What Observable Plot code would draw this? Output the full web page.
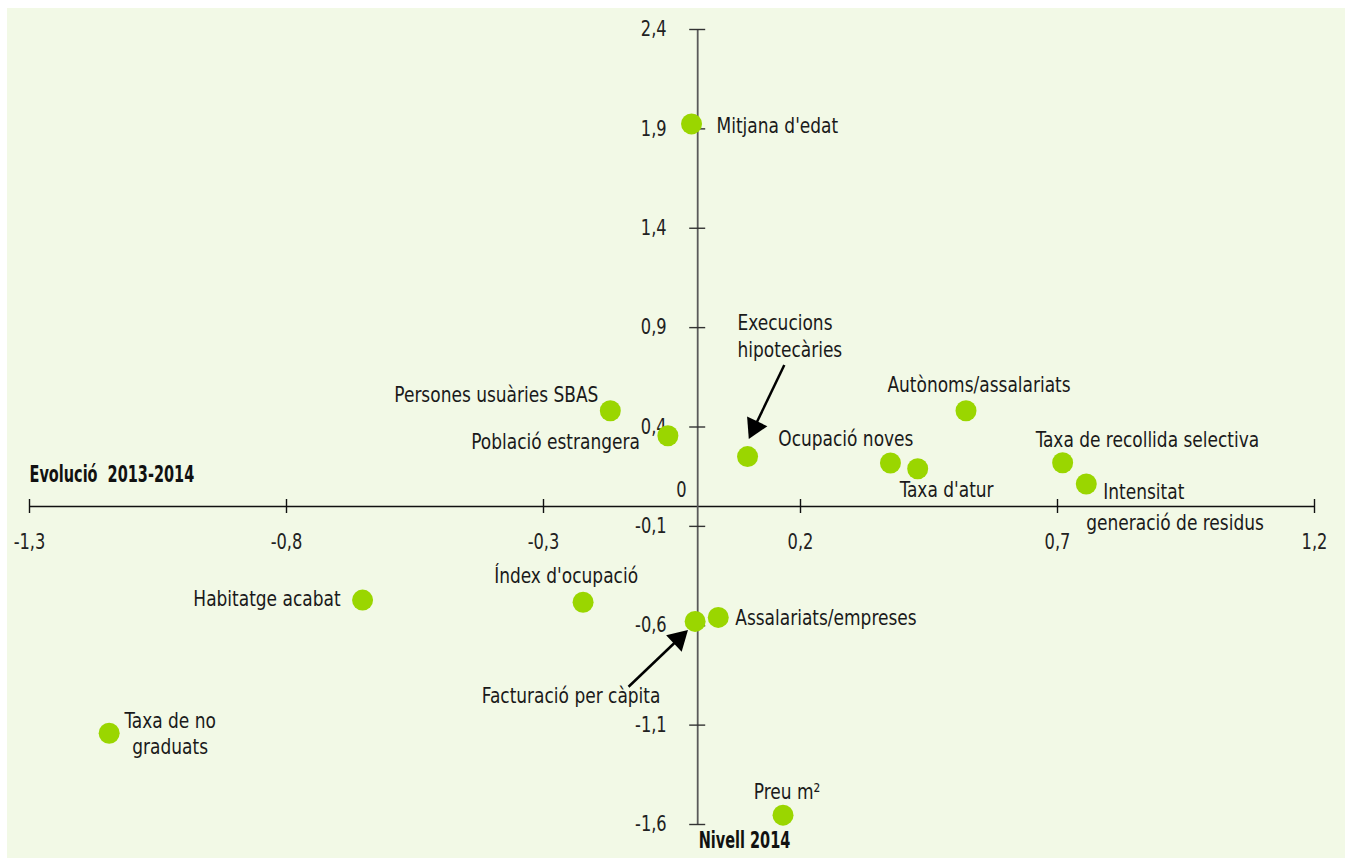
<!DOCTYPE html>
<html>
<head>
<meta charset="utf-8">
<script src="https://cdn.jsdelivr.net/npm/d3@7"></script>
<script src="https://cdn.jsdelivr.net/npm/@observablehq/plot@0.6"></script>
<style>
  html, body { margin: 0; padding: 0; background: #ffffff; }
  #chart { position: absolute; left: 7px; top: 8px; }
  #chart svg { display: block; background: #f2f9e6; }
</style>
</head>
<body>
<div id="chart"></div>
<script>
// ---- Data ----
const names = [
  "Mitjana d'edat", "Persones usuàries SBAS", "Població estrangera", "Execucions hipotecàries",
  "Autònoms/assalariats", "Ocupació noves", "Taxa d'atur", "Taxa de recollida selectiva",
  "Intensitat generació de residus", "Habitatge acabat", "Índex d'ocupació", "Facturació per càpita",
  "Assalariats/empreses", "Taxa de no graduats", "Preu m²"
];
const xVals = [-0.012, -0.170, -0.058, 0.097, 0.522, 0.375, 0.428, 0.710, 0.756, -0.652, -0.223, -0.005, 0.040, -1.145, 0.166];
const yVals = [1.925, 0.482, 0.356, 0.251, 0.482, 0.219, 0.190, 0.220, 0.113, -0.471, -0.482, -0.578, -0.558, -1.141, -1.553];

const xTicks = [-1.3, -0.8, -0.3, 0.2, 0.7, 1.2];
const yTicks = [2.4, 1.9, 1.4, 0.9, 0.4, -0.1, -0.6, -1.1, -1.6];
const xTitle = "Evolució  2013-2014";
const yTitle = "Nivell 2014";

// annotation arrows (data units): from -> to
const arrowFromX = [0.1685, -0.1345];
const arrowFromY = [0.712, -0.907];
const arrowToX = [0.0994, -0.0189];
const arrowToY = [0.340, -0.6215];

// ---- Layout (label placement, pixels) ----
const labelLayout = [
  {i: 0, text: "Mitjana d'edat", anchor: "start", dx: 25, dy: 2},
  {i: 1, text: "Persones usuàries SBAS", anchor: "end", dx: -12, dy: -16},
  {i: 2, text: "Població estrangera", anchor: "end", dx: -28, dy: 6},
  {i: 3, text: "Execucions", anchor: "start", dx: -10, dy: -134},
  {i: 3, text: "hipotecàries", anchor: "start", dx: -10, dy: -107},
  {i: 4, text: "Autònoms/assalariats", anchor: "middle", dx: 13, dy: -26},
  {i: 5, text: "Ocupació noves", anchor: "end", dx: 23, dy: -24},
  {i: 6, text: "Taxa d'atur", anchor: "start", dx: -18, dy: 21},
  {i: 7, text: "Taxa de recollida selectiva", anchor: "start", dx: -27, dy: -23},
  {i: 8, text: "Intensitat", anchor: "start", dx: 17, dy: 8},
  {i: 8, text: "generació de residus", anchor: "start", dx: 0, dy: 39},
  {i: 9, text: "Habitatge acabat", anchor: "end", dx: -22, dy: -1},
  {i: 10, text: "Índex d'ocupació", anchor: "middle", dx: -17, dy: -26},
  {i: 11, text: "Facturació per càpita", anchor: "middle", dx: -124, dy: 75},
  {i: 12, text: "Assalariats/empreses", anchor: "start", dx: 17, dy: 1},
  {i: 13, text: "Taxa de no\ngraduats", anchor: "middle", dx: 61, dy: -1, lineHeight: 1.2},
  {i: 14, text: "Preu m²", anchor: "middle", dx: 4, dy: -23}
];

const W = 1338, H = 850;
const mL = 22, mR = 31, mT = 21, mB = 34;
const FONT = "'DejaVu Sans Condensed', 'DejaVu Sans', sans-serif";
const FS = 21;      // tick labels
const FS_LABEL = 22; // point labels
const FS_TITLE = 23; // bold axis titles
const GREEN = "#9ad600";
const SQUEEZE = 0.86, SQUEEZE_BOLD = 0.70;
const fmt = v => (Object.is(v, -0) ? "0" : String(v)).replace(".", ",");

const points = names.map((n, i) => ({name: n, x: xVals[i], y: yVals[i]}));

// replicate scales for arrowhead orientation
const sx = d3.scaleLinear([-1.3, 1.2], [mL, W - mR]);
const sy = d3.scaleLinear([-1.6, 2.4], [H - mB, mT]);
const HEAD = 6.5; // triangle half-unit
const arrows = arrowFromX.map((_, k) => {
  const x1 = sx(arrowFromX[k]), y1 = sy(arrowFromY[k]);
  const x2 = sx(arrowToX[k]), y2 = sy(arrowToY[k]);
  const len = Math.hypot(x2 - x1, y2 - y1);
  const ux = (x2 - x1) / len, uy = (y2 - y1) / len;
  const cx = x2 - 2 * HEAD * ux, cy = y2 - 2 * HEAD * uy;
  const bx = x2 - 2.5 * HEAD * ux, by = y2 - 2.5 * HEAD * uy;
  return {
    x1: arrowFromX[k], y1: arrowFromY[k],
    x2: sx.invert(bx), y2: sy.invert(by),
    hx: sx.invert(cx), hy: sy.invert(cy),
    rot: Math.atan2(ux, -uy) * 180 / Math.PI
  };
});

const marks = [
  // x axis
  Plot.ruleY([0], {x1: -1.3, x2: 1.2, stroke: "#111", strokeWidth: 1.6}),
  Plot.ruleX(xTicks, {x: d => d, y1: 0, y2: 0, insetTop: -7, insetBottom: -7, stroke: "#111", strokeWidth: 1.4}),
  Plot.text(xTicks, {x: d => d, y: 0, text: fmt, dy: 36, fontSize: FS, fill: "#222", fontFamily: FONT}),
  // y axis
  Plot.ruleX([0], {y1: -1.6, y2: 2.4, stroke: "#5a5a5a", strokeWidth: 1.8}),
  Plot.ruleY(yTicks, {y: d => d, x1: 0, x2: 0, insetLeft: -8, insetRight: -8, stroke: "#333", strokeWidth: 1.4}),
  Plot.text(yTicks, {x: 0, y: d => d, text: fmt, dx: -31, textAnchor: "end", fontSize: FS, fill: "#222", fontFamily: FONT}),
  Plot.text([0], {x: 0, y: 0, text: fmt, dx: -11, dy: -16, textAnchor: "end", fontSize: FS, fill: "#222", fontFamily: FONT}),
  // axis titles
  Plot.text([xTitle], {x: -1.3, y: 0, text: d => d, dy: -32, textAnchor: "start", fontSize: FS_TITLE, fontWeight: "bold", fill: "#111", fontFamily: FONT}),
  Plot.text([yTitle], {x: 0, y: -1.6, text: d => d, dx: 1, dy: 16, textAnchor: "start", fontSize: FS_TITLE, fontWeight: "bold", fill: "#111", fontFamily: FONT}),
  // arrows
  Plot.link(arrows, {x1: "x1", y1: "y1", x2: "x2", y2: "y2", stroke: "#000", strokeWidth: 2.5}),
  Plot.dot(arrows, {x: "hx", y: "hy", symbol: "triangle", rotate: "rot", r: Math.sqrt(HEAD * HEAD * 3 * Math.sqrt(3) / Math.PI), fill: "#000", stroke: "none"}),
  // points
  Plot.dot(points, {x: "x", y: "y", r: 10.5, fill: GREEN, stroke: "none"}),
  // labels
  ...labelLayout.map(l => Plot.text([l], {
    x: d => xVals[d.i], y: d => yVals[d.i], text: "text",
    dx: l.dx, dy: l.dy, textAnchor: l.anchor, lineHeight: l.lineHeight || 1,
    fontSize: FS_LABEL, fill: "#1a1a1a", fontFamily: FONT
  }))
];

const chart = Plot.plot({
  width: W, height: H,
  marginLeft: mL, marginRight: mR, marginTop: mT, marginBottom: mB,
  x: {domain: [-1.3, 1.2], axis: null},
  y: {domain: [-1.6, 2.4], axis: null},
  style: {background: "#f2f9e6", fontFamily: FONT},
  marks
});

// horizontally condense the text (the reference uses a condensed face)
d3.select(chart).selectAll("text").each(function () {
  const g = this.closest("g");
  const bold = g && g.getAttribute("font-weight") === "bold";
  const s = bold ? SQUEEZE_BOLD : SQUEEZE;
  const t = this.getAttribute("transform");
  if (t) {
    this.setAttribute("transform", `${t} scale(${s},1)`);
  } else {
    const x = +this.getAttribute("x") || 0, y = +this.getAttribute("y") || 0;
    this.setAttribute("transform", `translate(${x},${y}) scale(${s},1) translate(${-x},${-y})`);
  }
});

document.getElementById("chart").appendChild(chart);
</script>
</body>
</html>
